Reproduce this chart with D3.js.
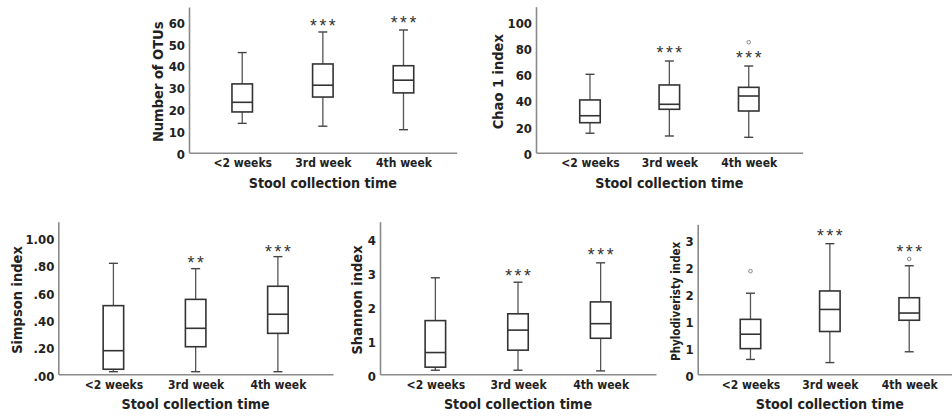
<!DOCTYPE html>
<html><head><meta charset="utf-8">
<script src="https://cdn.jsdelivr.net/npm/d3@7"></script>
<style>
html,body{margin:0;padding:0;background:#fff;}
svg text{font-family:"DejaVu Sans Condensed","DejaVu Sans",sans-serif;font-stretch:condensed;fill:#222;}
svg text.stars{font-family:"Liberation Sans",Arial,sans-serif;font-stretch:normal;}
</style></head>
<body>
<svg id="chart" width="952" height="420"></svg>
<script>
const categories = ["<2 weeks", "3rd week", "4th week"];
const xTitle = "Stool collection time";

// Number of OTUs
const otusLow = [13.4, 12.1, 10.5];
const otusQ1 = [18.6, 25.4, 27.3];
const otusMed = [23.0, 30.8, 33.1];
const otusQ3 = [31.4, 40.5, 39.7];
const otusHigh = [45.7, 55.1, 56.0];
const otusOut = [[], [], []];
const otusStars = ["", "***", "***"];
const otusStarY = [0, 60.3, 61.4];
const otusTicks = [0, 10, 20, 30, 40, 50, 60];
const otusTickLabels = ["0", "10", "20", "30", "40", "50", "60"];

// Chao 1 index
const chaoLow = [14.8, 12.7, 11.7];
const chaoQ1 = [22.8, 33.0, 31.7];
const chaoMed = [28.1, 36.8, 43.1];
const chaoQ3 = [40.1, 51.5, 49.7];
const chaoHigh = [59.6, 69.7, 65.9];
const chaoOut = [[], [], [84]];
const chaoStars = ["", "***", "***"];
const chaoStarY = [0, 79.6, 75.8];
const chaoTicks = [0, 20, 40, 60, 80, 100];
const chaoTickLabels = ["0", "20", "40", "60", "80", "100"];

// Simpson index
const simpLow = [0.019, 0.019, 0.019];
const simpQ1 = [0.037, 0.202, 0.300];
const simpMed = [0.173, 0.337, 0.440];
const simpQ3 = [0.503, 0.549, 0.645];
const simpHigh = [0.813, 0.774, 0.862];
const simpOut = [[], [], []];
const simpStars = ["", "**", "***"];
const simpStarY = [0, 0.85, 0.935];
const simpTicks = [0, 0.2, 0.4, 0.6, 0.8, 1.0];
const simpTickLabels = [".00", ".20", ".40", ".60", ".80", "1.00"];

// Shannon index
const shanLow = [0.12, 0.12, 0.10];
const shanQ1 = [0.21, 0.71, 1.06];
const shanMed = [0.64, 1.30, 1.49];
const shanQ3 = [1.58, 1.78, 2.13];
const shanHigh = [2.84, 2.71, 3.28];
const shanOut = [[], [], []];
const shanStars = ["", "***", "***"];
const shanStarY = [0, 3.04, 3.66];
const shanTicks = [0, 1, 2, 3, 4];
const shanTickLabels = ["0", "1", "2", "3", "4"];

// Phylodiversity index
const phyLow = [0.33, 0.26, 0.50];
const phyQ1 = [0.57, 0.95, 1.20];
const phyMed = [0.89, 1.44, 1.36];
const phyQ3 = [1.22, 1.85, 1.70];
const phyHigh = [1.80, 2.90, 2.41];
const phyOut = [[2.29], [], [2.56]];
const phyStars = ["", "***", "***"];
const phyStarY = [0, 3.18, 2.84];
const phyTicks = [0, 0.6, 1.2, 1.8, 2.4, 3.0];
const phyTickLabels = ["0", "1", "1", "2", "2", "3"];

const panels = [
  {title:"Number of OTUs", low:otusLow,q1:otusQ1,med:otusMed,q3:otusQ3,high:otusHigh,out:otusOut,stars:otusStars,starY:otusStarY,ticks:otusTicks,tickLabels:otusTickLabels,
   ymax:66.5, x0:189, x1:456.7, y0:152.7, y1:7, pad:0.66, ytx:158, tfs:14.5},
  {title:"Chao 1 index", low:chaoLow,q1:chaoQ1,med:chaoMed,q3:chaoQ3,high:chaoHigh,out:chaoOut,stars:chaoStars,starY:chaoStarY,ticks:chaoTicks,tickLabels:chaoTickLabels,
   ymax:111, x0:536, x1:802.7, y0:152.7, y1:6.7, pad:0.68, ytx:498, tfs:14.5},
  {title:"Simpson index", low:simpLow,q1:simpQ1,med:simpMed,q3:simpQ3,high:simpHigh,out:simpOut,stars:simpStars,starY:simpStarY,ticks:simpTicks,tickLabels:simpTickLabels,
   ymax:1.118, x0:58.3, x1:333, y0:374.3, y1:221.7, pad:0.67, ytx:17, tfs:14.5},
  {title:"Shannon index", low:shanLow,q1:shanQ1,med:shanMed,q3:shanQ3,high:shanHigh,out:shanOut,stars:shanStars,starY:shanStarY,ticks:shanTicks,tickLabels:shanTickLabels,
   ymax:4.49, x0:380, x1:656, y0:374.3, y1:221.7, pad:0.67, ytx:357, tfs:14.5},
  {title:"Phylodiveristy index", low:phyLow,q1:phyQ1,med:phyMed,q3:phyQ3,high:phyHigh,out:phyOut,stars:phyStars,starY:phyStarY,ticks:phyTicks,tickLabels:phyTickLabels,
   ymax:3.33, x0:697.7, x1:962, y0:374.3, y1:224.3, pad:0.665, ytx:676, tfs:11.5}
];

const svg = d3.select("#chart");
const boxW = 20.5, capW = 9;

panels.forEach(p => {
  const g = svg.append("g");
  const x = d3.scalePoint().domain(categories).range([p.x0, p.x1]).padding(p.pad);
  const y = d3.scaleLinear().domain([0, p.ymax]).range([p.y0, p.y1]);

  // y axis
  const yAxis = d3.axisLeft(y).tickValues(p.ticks).tickSize(0).tickPadding(4)
     .tickFormat((d,i) => p.tickLabels[i]);
  const ya = g.append("g").attr("transform", `translate(${p.x0},0)`).call(yAxis);
  ya.select(".domain").attr("stroke", "#8a8a8a").attr("stroke-width", 1.6);
  ya.selectAll("text").attr("font-size", 13).attr("font-weight", "bold").attr("dy", "0.45em").style("fill","#222");

  // x axis
  const xAxis = d3.axisBottom(x).tickSize(0).tickPadding(6);
  const xa = g.append("g").attr("transform", `translate(0,${p.y0})`).call(xAxis);
  xa.select(".domain").attr("stroke", "#8a8a8a").attr("stroke-width", 1.6);
  xa.selectAll("text").attr("font-size", 12).attr("font-weight", "bold").style("fill","#222");

  // titles
  g.append("text")
    .attr("x", x(categories[1]))
    .attr("y", p.y0 + 35).attr("text-anchor", "middle")
    .attr("font-size", 14.2).attr("font-weight", "bold").text(xTitle);
  g.append("text").attr("transform", `translate(${p.ytx},${(p.y0 + p.y1) / 2 + 2}) rotate(-90)`)
    .attr("text-anchor", "middle").attr("dy", "0.35em")
    .attr("font-size", p.tfs).attr("font-weight", "bold").text(p.title);

  categories.forEach((c, i) => {
    const cx = x(c);
    // whiskers
    g.append("line").attr("x1", cx).attr("x2", cx).attr("y1", y(p.q3[i])).attr("y2", y(p.high[i]))
      .attr("stroke", "#555").attr("stroke-width", 1.3);
    g.append("line").attr("x1", cx).attr("x2", cx).attr("y1", y(p.q1[i])).attr("y2", y(p.low[i]))
      .attr("stroke", "#555").attr("stroke-width", 1.3);
    g.append("line").attr("x1", cx - capW/2).attr("x2", cx + capW/2).attr("y1", y(p.high[i])).attr("y2", y(p.high[i]))
      .attr("stroke", "#444").attr("stroke-width", 1.4);
    g.append("line").attr("x1", cx - capW/2).attr("x2", cx + capW/2).attr("y1", y(p.low[i])).attr("y2", y(p.low[i]))
      .attr("stroke", "#444").attr("stroke-width", 1.4);
    // box
    g.append("rect").attr("x", cx - boxW/2).attr("width", boxW)
      .attr("y", y(p.q3[i])).attr("height", y(p.q1[i]) - y(p.q3[i]))
      .attr("fill", "#fff").attr("stroke", "#333").attr("stroke-width", 1.6);
    g.append("line").attr("x1", cx - boxW/2).attr("x2", cx + boxW/2).attr("y1", y(p.med[i])).attr("y2", y(p.med[i]))
      .attr("stroke", "#333").attr("stroke-width", 1.6);
    // outliers
    p.out[i].forEach(v => {
      g.append("circle").attr("cx", cx).attr("cy", y(v)).attr("r", 1.8)
        .attr("fill", "none").attr("stroke", "#888").attr("stroke-width", 1);
    });
    // stars
    if (p.stars[i]) {
      g.append("text").attr("class", "stars").attr("x", cx + 1.3).attr("y", y(p.starY[i])).attr("dy", "0.64em")
        .attr("text-anchor", "middle").attr("font-size", 17.5).attr("letter-spacing", 2.6)
        .style("fill", "#333")
        .text(p.stars[i]);
    }
  });
});
</script>
</body></html>
